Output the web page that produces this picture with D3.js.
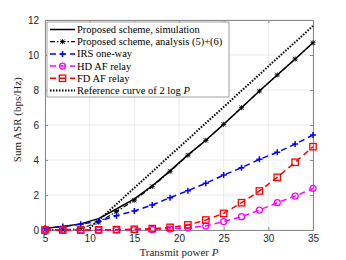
<!DOCTYPE html>
<html>
<head>
<meta charset="utf-8">
<script src="https://cdn.jsdelivr.net/npm/d3@7"></script>
<style>
  body { margin: 0; background: #fff; }
  svg text { font-family: "Liberation Sans", Arial, sans-serif; }
  .serif { font-family: "Liberation Serif", "DejaVu Serif", serif; }
</style>
</head>
<body>
<script>
// transmit power grid (dB) and curves
const powers = [5, 7, 9, 11, 13, 15, 17, 19, 21, 23, 25, 27, 29, 31, 33, 35]
const simulation = [0.1, 0.2, 0.35, 0.65, 1.2, 1.78, 2.52, 3.38, 4.29, 5.13, 6.04, 6.99, 7.94, 8.86, 9.77, 10.7]
const analysis = [0.0, 0.01, 0.08, 0.45, 1.05, 1.7, 2.48, 3.35, 4.27, 5.12, 6.04, 6.99, 7.94, 8.86, 9.77, 10.7]
const irsOneWay = [0.1, 0.2, 0.33, 0.5, 0.82, 1.09, 1.43, 1.85, 2.25, 2.67, 3.14, 3.56, 4.04, 4.44, 4.91, 5.43]
const hdRelay = [0, 0, 0, 0, 0.01, 0.02, 0.03, 0.06, 0.13, 0.23, 0.48, 0.76, 1.14, 1.56, 1.94, 2.38]
const fdRelay = [0, 0, 0, 0.01, 0.02, 0.04, 0.08, 0.15, 0.29, 0.57, 0.95, 1.56, 2.23, 3.01, 3.87, 4.76]
const refPowers = [10, 15, 20, 25, 30, 35]
const refCurve = [0.1, 2.4, 4.72, 7.03, 9.35, 11.66]
const xTicks = [5, 10, 15, 20, 25, 30, 35]
const yTicks = [0, 2, 4, 6, 8, 10, 12]

let w = 346, h = 260
let m = {left: 45, right: 33, top: 20, bottom: 30}
let svg = d3.select("body").append("svg").attr("width", w).attr("height", h)

let x = d3.scaleLinear().domain([5, 35]).range([m.left, w - m.right])
let y = d3.scaleLinear().domain([0, 12]).range([h - m.bottom, m.top])

// grid
svg.append("g").selectAll("line").data(xTicks).enter().append("line")
    .attr("x1", d => x(d)).attr("x2", d => x(d)).attr("y1", y(0)).attr("y2", y(12))
    .attr("stroke", "#e6e6e6").attr("stroke-width", 0.8)
svg.append("g").selectAll("line").data(yTicks).enter().append("line")
    .attr("x1", x(5)).attr("x2", x(35)).attr("y1", d => y(d)).attr("y2", d => y(d))
    .attr("stroke", "#e6e6e6").attr("stroke-width", 0.8)

// axes
let xAxis = d3.axisBottom(x).tickValues(xTicks).tickSize(-3).tickPadding(5)
let yAxis = d3.axisLeft(y).tickValues(yTicks).tickSize(-3).tickPadding(6)
let gx = svg.append("g").attr("transform", "translate(0," + y(0) + ")").call(xAxis)
let gy = svg.append("g").attr("transform", "translate(" + x(5) + ",0)").call(yAxis)
let gx2 = svg.append("g").attr("transform", "translate(0," + y(12) + ")").call(d3.axisTop(x).tickValues(xTicks).tickSize(-3).tickFormat(""))
let gy2 = svg.append("g").attr("transform", "translate(" + x(35) + ",0)").call(d3.axisRight(y).tickValues(yTicks).tickSize(-3).tickFormat(""))
for (let g of [gx, gy, gx2, gy2]) {
    g.select(".domain").attr("stroke", "#8a8a8a").attr("stroke-width", 1)
    g.selectAll(".tick line").attr("stroke", "#8a8a8a")
    g.selectAll("text").attr("font-size", 10).attr("fill", "#262626")
        .style("font-family", "'Liberation Sans', Arial, sans-serif")
}

svg.append("text").attr("class", "serif").attr("x", x(20)).attr("y", 256)
    .attr("text-anchor", "middle").attr("font-size", 11).attr("fill", "#262626")
    .html("Transmit power <tspan font-style='italic'>P</tspan>")
svg.append("text").attr("class", "serif")
    .attr("transform", "translate(21," + y(6.3) + ") rotate(-90)")
    .attr("text-anchor", "middle").attr("font-size", 11).attr("fill", "#262626")
    .text("Sum ASR (bps/Hz)")

let line = d3.line().x(d => x(d[0])).y(d => y(d[1]))
let zip = (xs, ys) => xs.map((p, i) => [p, ys[i]])

function marker(g, type, color) {
    if (type == "plus") {
        g.append("path").attr("d", "M-3,0H3M0,-3V3").attr("stroke", color).attr("stroke-width", 1.5).attr("fill", "none")
    } else if (type == "circle") {
        g.append("circle").attr("r", 3).attr("stroke", color).attr("stroke-width", 1.3).attr("fill", "none")
    } else if (type == "square") {
        g.append("rect").attr("x", -3.2).attr("y", -3.2).attr("width", 6.4).attr("height", 6.4)
            .attr("stroke", color).attr("stroke-width", 1.3).attr("fill", "none")
    } else if (type == "star") {
        g.append("path").attr("d", "M-2.2,-2.2L2.2,2.2M-2.2,2.2L2.2,-2.2M0,-2.5V2.5M-2.5,0H2.5")
            .attr("stroke", color).attr("stroke-width", 0.9).attr("fill", "none")
    }
}

let series = [
    {name: "Proposed scheme, simulation", xs: powers, ys: simulation, color: "#000", dash: null, width: 1.5, mk: null},
    {name: "Proposed scheme, analysis (5)+(6)", xs: powers, ys: analysis, color: "#000", dash: "5,2,1.5,2", width: 1.2, mk: "star"},
    {name: "IRS one-way", xs: powers, ys: irsOneWay, color: "#0000ff", dash: "6,4", width: 1.5, mk: "plus"},
    {name: "HD AF relay", xs: powers, ys: hdRelay, color: "#ff00ff", dash: "6,4", width: 1.5, mk: "circle"},
    {name: "FD AF relay", xs: powers, ys: fdRelay, color: "#ff0000", dash: "6,4", width: 1.5, mk: "square"},
    {name: "Reference curve of 2 log P", xs: refPowers, ys: refCurve, color: "#000", dash: "1.5,1.5", width: 2, mk: null}
]

let plot = svg.append("g")
for (let s of series) {
    plot.append("path").attr("d", line(zip(s.xs, s.ys)))
        .attr("fill", "none").attr("stroke", s.color).attr("stroke-width", s.width)
        .attr("stroke-dasharray", s.dash)
    if (s.mk) {
        plot.selectAll(null).data(zip(s.xs, s.ys)).enter().append("g")
            .attr("transform", d => "translate(" + x(d[0]) + "," + y(d[1]) + ")")
            .each(function() { marker(d3.select(this), s.mk, s.color) })
    }
}

// legend
let lg = svg.append("g").attr("transform", "translate(47,22)")
lg.append("rect").attr("width", 182).attr("height", 75).attr("fill", "#fff")
    .attr("stroke", "#8a8a8a").attr("stroke-width", 0.8)
series.forEach((s, i) => {
    let yy = 7.5 + i * 12.2
    lg.append("line").attr("x1", 3).attr("x2", 28).attr("y1", yy).attr("y2", yy)
        .attr("stroke", s.color).attr("stroke-width", s.width).attr("stroke-dasharray", s.dash)
    if (s.mk) marker(lg.append("g").attr("transform", "translate(15.5," + yy + ")"), s.mk, s.color)
    let t = lg.append("text").attr("class", "serif").attr("x", 30).attr("y", yy + 3.5)
        .attr("font-size", 10.5).attr("fill", "#000")
    if (i == 5) t.html("Reference curve of 2 log <tspan font-style='italic'>P</tspan>")
    else t.text(s.name)
})
</script>
</body>
</html>
